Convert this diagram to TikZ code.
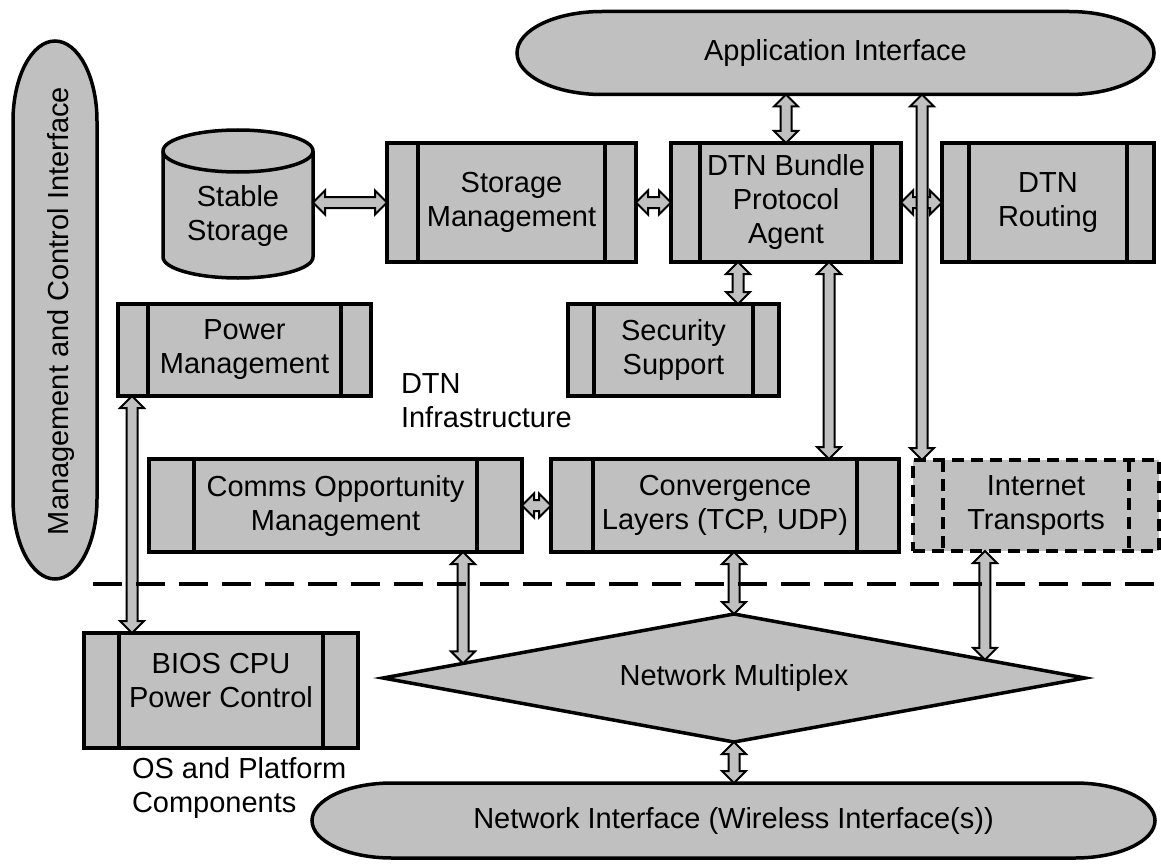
\documentclass[tikz,border=0pt]{standalone}
\usepackage{fontspec}
\setmainfont{Liberation Sans}
\usetikzlibrary{calc,shapes.geometric}
\definecolor{boxgray}{RGB}{192,192,192}
\pgfdeclarelayer{background}
\pgfsetlayers{background,main}
\newcommand\BAhl{12pt}
\newcommand\BAhw{12pt}
\newcommand\BAsw{5.5pt}
\newcommand\blockarr[2]{%
  \draw[blockarrow] (#1)
   -- ($($(#1)!\BAhl!(#2)$)!\BAhw!90:(#2)$)
   -- ($($(#1)!\BAhl!(#2)$)!\BAsw!90:(#2)$)
   -- ($($(#2)!\BAhl!(#1)$)!\BAsw!-90:(#1)$)
   -- ($($(#2)!\BAhl!(#1)$)!\BAhw!-90:(#1)$)
   -- (#2)
   -- ($($(#2)!\BAhl!(#1)$)!\BAhw!90:(#1)$)
   -- ($($(#2)!\BAhl!(#1)$)!\BAsw!90:(#1)$)
   -- ($($(#1)!\BAhl!(#2)$)!\BAsw!-90:(#2)$)
   -- ($($(#1)!\BAhl!(#2)$)!\BAhw!-90:(#2)$)
   -- cycle;}
\newcommand\hcapsule[3]{%
  \draw[capsule] ([xshift=#2]#1.north west) -- ([xshift=-#2]#1.north east)
    arc[start angle=90, end angle=-90, x radius=#2, y radius=#3]
    -- ([xshift=#2]#1.south west)
    arc[start angle=270, end angle=90, x radius=#2, y radius=#3] -- cycle;}
\newcommand\vcapsule[3]{%
  \draw[capsule] ([yshift=-#3]#1.north west) -- ([yshift=#3]#1.south west)
    arc[start angle=180, end angle=360, x radius=#2, y radius=#3]
    -- ([yshift=-#3]#1.north east)
    arc[start angle=0, end angle=180, x radius=#2, y radius=#3] -- cycle;}
\tikzset{
  txtnode/.style={inner sep=0pt, outer sep=0pt, align=center},
  procbox/.style={draw, fill=boxgray, line width=3.5pt, inner sep=0pt, outer sep=0pt, align=center,
    path picture={\draw[line width=3.5pt]
      ([xshift=#1]path picture bounding box.north west) -- ([xshift=#1]path picture bounding box.south west)
      ([xshift=-#1]path picture bounding box.north east) -- ([xshift=-#1]path picture bounding box.south east);}},
  dashbox/.style={draw, fill=boxgray, line width=3.5pt, dash pattern=on 12pt off 7pt, inner sep=0pt, outer sep=0pt, align=center,
    path picture={\draw[line width=3.5pt, dash pattern=on 12pt off 7pt]
      ([xshift=#1]path picture bounding box.north west) -- ([xshift=#1]path picture bounding box.south west)
      ([xshift=-#1]path picture bounding box.north east) -- ([xshift=-#1]path picture bounding box.south east);}},
  capsule/.style={draw, fill=boxgray, line width=3.5pt},
  blockarrow/.style={draw, fill=boxgray, line width=2pt, line join=miter},
  sepline/.style={line width=4pt, dash pattern=on 29pt off 14pt},
  muxnode/.style={diamond, draw, fill=boxgray, line width=3.5pt, inner sep=0pt, outer sep=0pt, aspect=5.48}
}
\begin{document}
\begin{tikzpicture}[x=1pt, y=1pt, font=\fontsize{29pt}{34pt}\selectfont]
\useasboundingbox (0,0) rectangle (1161,-864);

% capsule-shaped interfaces and storage (text nodes; outlines on background layer)
\node[txtnode, minimum width=637pt, minimum height=83pt] (app) at (835.5,-53) {Application Interface};
\node[txtnode, minimum width=843pt, minimum height=75pt] (netif) at (733.5,-820.5) {Network Interface (Wireless Interface(s))};
\node[txtnode, minimum width=84pt, minimum height=538pt] (mci) at (55,-310) {};
\node[txtnode] (mcit) at (60.7,-311) {\rotatebox{90}{Management and Control Interface}};
\node[txtnode, minimum width=150pt, minimum height=148pt] (stable) at (238,-204) {};
\node[txtnode] (stablet) at (238,-216) {Stable\\Storage};

\begin{pgfonlayer}{background}
  \hcapsule{app}{85pt}{41.5pt}
  \hcapsule{netif}{80pt}{37.5pt}
  \vcapsule{mci}{42pt}{80pt}
  \draw[capsule] ([yshift=-21pt]stable.north west) -- ([yshift=21pt]stable.south west)
    arc[start angle=180, end angle=360, x radius=75pt, y radius=21pt]
    -- ([yshift=-21pt]stable.north east)
    arc[start angle=0, end angle=180, x radius=75pt, y radius=21pt] -- cycle;
  \draw[line width=3.5pt] ([yshift=-21pt]stable.north west)
    arc[start angle=180, end angle=360, x radius=75pt, y radius=21pt];
\end{pgfonlayer}

% process boxes
\node[procbox=31pt, minimum width=249pt, minimum height=119pt] (stor) at (511.5,-202.5) {Storage\\Management};
\node[procbox=29pt, minimum width=230pt, minimum height=119pt] (bpa) at (786,-202.5) {DTN Bundle\\Protocol\\Agent};
\node[procbox=27pt, minimum width=212pt, minimum height=119pt] (rout) at (1048,-202.5) {DTN\\Routing};
\node[procbox=26pt, minimum width=211pt, minimum height=92pt] (sec) at (673.5,-350) {Security\\Support};
\node[procbox=30pt, minimum width=253pt, minimum height=92pt] (pow) at (244.5,-350) {Power\\Management};
\node[procbox=45pt, minimum width=373pt, minimum height=93pt] (comms) at (335.5,-505.5) {Comms Opportunity\\Management};
\node[procbox=42pt, minimum width=348pt, minimum height=93pt] (conv) at (725,-505.5) {Convergence\\Layers (TCP, UDP)};
\node[dashbox=30pt, minimum width=246pt, minimum height=91pt] (inet) at (1036,-505.5) {Internet\\Transports};
\node[procbox=35pt, minimum width=274pt, minimum height=115pt] (bios) at (221,-690.5) {};
\node[txtnode] (biost) at (221,-680.5) {BIOS CPU\\Power Control};
\node[muxnode, minimum width=702pt, minimum height=128pt] (mux) at (734,-678) {Network Multiplex};

% free labels
\node[txtnode, align=left, anchor=north west] (infra) at (401,-374) {DTN\\Infrastructure};
\node[txtnode, align=left, anchor=north west] (ospl) at (132,-757) {OS and Platform\\Components};

% arrow end points
\coordinate (p1) at (bpa.north |- app.south);
\coordinate (p2) at (stable.east |- stor.west);
\coordinate (p5a) at ([xshift=-48pt]bpa.south);
\coordinate (p5b) at (p5a |- sec.north);
\coordinate (p6a) at ([xshift=43pt]bpa.south);
\coordinate (p6b) at (p6a |- conv.north);
\coordinate (p7b) at ([xshift=9pt]inet.north west);
\coordinate (p7a) at (p7b |- app.south);
\coordinate (p8a) at ([xshift=14pt]pow.south west);
\coordinate (p8b) at (p8a |- bios.north);
\coordinate (p10b) at ($(mux.west)!0.228!(mux.north)$);
\coordinate (p10a) at (p10b |- comms.south);
\coordinate (p11a) at (mux.north |- conv.south);
\coordinate (p12b) at ($(mux.north)!0.715!(mux.east)$);
\coordinate (p12a) at (p12b |- inet.south);
\coordinate (p13) at (mux.south |- netif.north);

% arrows
\blockarr{p1}{bpa.north}
\blockarr{p2}{stor.west}
\blockarr{stor.east}{bpa.west}
\blockarr{bpa.east}{rout.west}
\blockarr{p5a}{p5b}
\blockarr{p6a}{p6b}
\blockarr{p7a}{p7b}
\blockarr{p8a}{p8b}
\blockarr{comms.east}{conv.west}
\blockarr{p10a}{p10b}
\blockarr{p11a}{mux.north}
\blockarr{p12a}{p12b}
\blockarr{mux.south}{p13}

% separator between DTN infrastructure and OS/platform components
\coordinate (sepL) at (93,-584);
\coordinate (sepR) at (1161,-584);
\draw[sepline] (sepL) -- (sepR);
\end{tikzpicture}
\end{document}
